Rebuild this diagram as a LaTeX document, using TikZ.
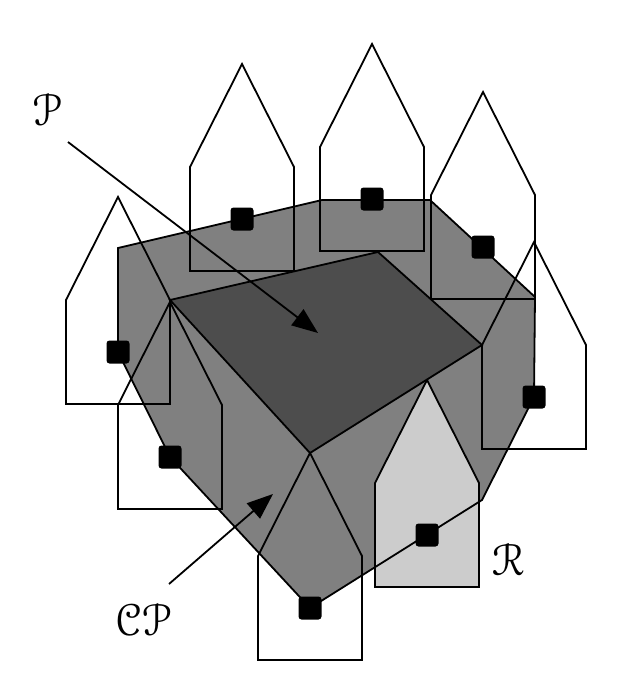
\documentclass[tikz,border=0pt]{standalone}
\usepackage[mathcal]{eucal}
\usetikzlibrary{arrows.meta}
\definecolor{outergray}{HTML}{808080}
\definecolor{innerdark}{HTML}{4D4D4D}
\definecolor{robotlight}{HTML}{CCCCCC}
\begin{document}
\begin{tikzpicture}[x=1pt,y=-1pt,
  edge/.style={draw=black, line width=1.8pt, line join=miter},
  pin/.style={fill=black, draw=none, minimum size=23pt, inner sep=0pt, rounded corners=3pt},
  robothouse/.pic={\path[pic actions] (-52,52) -- (-52,-52) -- (0,-155) -- (52,-52) -- (52,52) -- cycle;},
  lbl/.style={scale=4.5, inner sep=0pt},
  pointer/.style={draw=black, line width=1.8pt, -{Triangle[length=26pt,width=20pt]}}]
\useasboundingbox (0,0) rectangle (639,680);
% outer region CP (fill)
\fill[outergray] (118,248) -- (322,200) -- (430,200) -- (535,297) -- (534,397) -- (482,500) -- (310,608) -- (170,457) -- (118,352) -- cycle;
% robot R
\pic[edge, fill=robotlight] at (427,535) {robothouse};
% outer region outline
\draw[edge] (118,248) -- (322,200) -- (430,200) -- (535,297) -- (534,397) -- (482,500) -- (310,608) -- (170,457) -- (118,352) -- cycle;
% robot placements
\pic[edge] at (118,352) {robothouse};
\pic[edge] at (242,219) {robothouse};
\pic[edge] at (372,199) {robothouse};
\pic[edge] at (483,247) {robothouse};
\pic[edge] at (534,397) {robothouse};
\pic[edge] at (170,457) {robothouse};
\pic[edge] at (310,608) {robothouse};
% obstacle P
\filldraw[edge, fill=innerdark] (170,300) -- (378,252) -- (482,345) -- (310,453) -- cycle;
% reference points
\node[pin] (s1) at (118,352) {};
\node[pin] (s2) at (242,219) {};
\node[pin] (s3) at (372,199) {};
\node[pin] (s4) at (483,247) {};
\node[pin] (s5) at (534,397) {};
\node[pin] (s6) at (170,457) {};
\node[pin] (s7) at (310,608) {};
\node[pin] (s8) at (427,535) {};
% labels
\node[lbl] (lp) at (47,110) {$\mathcal{P}$};
\node[lbl] (lcp) at (143,620) {$\mathcal{CP}$};
\node[lbl] (lr) at (508,560) {$\mathcal{R}$};
\coordinate (pstart) at (68,142);
\coordinate (ptip) at (318,333);
\coordinate (cpstart) at (169,584);
\coordinate (cptip) at (273,494);
\draw[pointer] (pstart) -- (ptip);
\draw[pointer] (cpstart) -- (cptip);
\end{tikzpicture}
\end{document}
